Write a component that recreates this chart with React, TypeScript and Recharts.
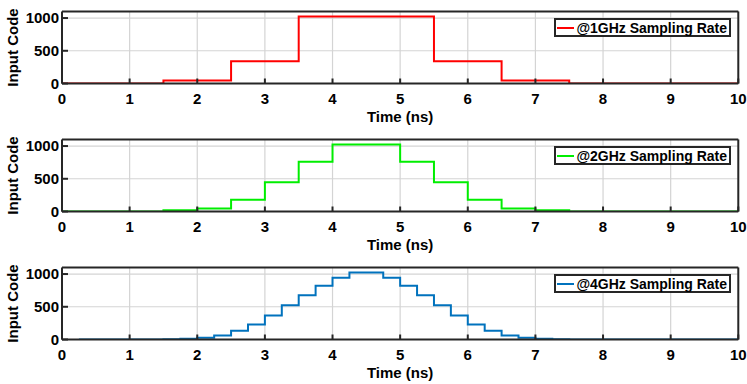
import { LineChart, Line, XAxis, YAxis, CartesianGrid, Legend } from "recharts";

// time axis / code axis ticks
const timeTicks = [0, 1, 2, 3, 4, 5, 6, 7, 8, 9, 10];
const codeTicks = [0, 500, 1000];

// @1GHz: sample-and-hold
const time1GHz = [0, 0.5, 1.5, 2.5, 3.5, 4.5, 5.5, 6.5, 7.5, 8.5, 9.5, 10];
const code1GHz = [0, 0, 45, 340, 1023, 1023, 340, 45, 0, 0, 0, 0];

// @2GHz
const time2GHz = [0, 0.5, 1, 1.5, 2, 2.5, 3, 3.5, 4, 4.5, 5, 5.5, 6, 6.5, 7, 7.5, 8, 8.5, 9, 9.5, 10];
const code2GHz = [0, 0, 0, 18, 45, 180, 445, 760, 1023, 1023, 760, 445, 180, 45, 18, 0, 0, 0, 0, 0, 0];

// @4GHz
const time4GHz = [
  0.25, 0.5, 0.75, 1, 1.25, 1.5, 1.75, 2, 2.25, 2.5, 2.75, 3, 3.25, 3.5, 3.75, 4, 4.25, 4.5, 4.75, 5,
  5.25, 5.5, 5.75, 6, 6.25, 6.5, 6.75, 7, 7.25, 7.5, 7.75, 8, 8.25, 8.5, 8.75, 9, 9.25, 9.5, 9.75, 10,
];
const code4GHz = [
  0, 0, 0, 0, 0, 5, 12, 25, 62, 133, 230, 368, 522, 677, 820, 945, 1023, 1023, 945, 820,
  677, 522, 368, 230, 133, 62, 25, 12, 5, 0, 0, 0, 0, 0, 0, 0, 0, 0, 0, 0,
];

const panels = [
  { name: "@1GHz Sampling Rate", color: "#ff0000", time: time1GHz, code: code1GHz },
  { name: "@2GHz Sampling Rate", color: "#00ee00", time: time2GHz, code: code2GHz },
  { name: "@4GHz Sampling Rate", color: "#0072bd", time: time4GHz, code: code4GHz },
];

const FONT = '"Liberation Sans", Arial, Helvetica, sans-serif';
const AXIS = "#262626";
const tickStyle = { fill: "#000", fontSize: 15, fontWeight: "bold", fontFamily: FONT };

function LegendBox({ name, color }: { name: string; color: string }) {
  return (
    <div
      style={{
        position: "absolute",
        right: 0,
        top: 0,
        height: 19,
        boxSizing: "border-box",
        border: `2px solid ${AXIS}`,
        background: "#fff",
        display: "flex",
        alignItems: "center",
        padding: "0 2px 0 1px",
        whiteSpace: "nowrap",
      }}
    >
      <span style={{ width: 17, height: 2, background: color, display: "inline-block", marginRight: 2 }} />
      <span style={{ fontFamily: FONT, fontWeight: "bold", fontSize: 14, color: "#000" }}>{name}</span>
    </div>
  );
}

function Panel({ panel, top }: { panel: (typeof panels)[number]; top: number }) {
  const data = panel.time.map((t, i) => ({ t, code: panel.code[i] }));
  return (
    <div style={{ position: "absolute", left: 0, top }}>
      <LineChart width={747} height={128} data={data} margin={{ top: 10.5, right: 7.7, bottom: 0, left: 0 }}>
        <CartesianGrid stroke="#d4d4d4" strokeWidth={1.2} />
        <XAxis
          dataKey="t"
          type="number"
          domain={[0, 10]}
          ticks={timeTicks}
          interval={0}
          allowDataOverflow
          height={44.5}
          tickSize={-5}
          tickMargin={15}
          axisLine={{ stroke: AXIS, strokeWidth: 2 }}
          tickLine={{ stroke: AXIS, strokeWidth: 2 }}
          tick={tickStyle}
          label={{ value: "Time (ns)", position: "insideBottom", offset: 6, ...tickStyle }}
        />
        <XAxis
          xAxisId="top"
          orientation="top"
          dataKey="t"
          type="number"
          domain={[0, 10]}
          ticks={timeTicks}
          interval={0}
          allowDataOverflow
          height={1}
          tickSize={-5}
          tick={false}
          axisLine={{ stroke: AXIS, strokeWidth: 2 }}
          tickLine={{ stroke: AXIS, strokeWidth: 2 }}
        />
        <YAxis
          type="number"
          domain={[0, 1100]}
          ticks={codeTicks}
          interval={0}
          allowDataOverflow
          width={62}
          tickSize={-6}
          tickMargin={9}
          axisLine={{ stroke: AXIS, strokeWidth: 2 }}
          tickLine={{ stroke: AXIS, strokeWidth: 2 }}
          tick={tickStyle}
          label={{
            value: "Input Code",
            angle: -90,
            position: "insideLeft",
            offset: 12.5,
            textAnchor: "middle",
            style: { textAnchor: "middle" },
            ...tickStyle,
          }}
        />
        <YAxis
          yAxisId="right"
          orientation="right"
          type="number"
          domain={[0, 1100]}
          ticks={codeTicks}
          interval={0}
          allowDataOverflow
          width={1}
          tickSize={-6}
          tick={false}
          axisLine={{ stroke: AXIS, strokeWidth: 2 }}
          tickLine={{ stroke: AXIS, strokeWidth: 2 }}
        />
        <Legend
          verticalAlign="top"
          align="right"
          wrapperStyle={{ top: 18, right: 16, width: 0, height: 0 }}
          content={() => <LegendBox name={panel.name} color={panel.color} />}
        />
        {/* invisible copy so the top/right box axes get drawn */}
        <Line
          xAxisId="top"
          yAxisId="right"
          type="stepAfter"
          dataKey="code"
          stroke="none"
          legendType="none"
          dot={false}
          activeDot={false}
          isAnimationActive={false}
        />
        <Line
          type="stepAfter"
          dataKey="code"
          stroke={panel.color}
          strokeWidth={2}
          dot={false}
          isAnimationActive={false}
        />
      </LineChart>
    </div>
  );
}

export default function App() {
  return (
    <div style={{ position: "absolute", left: 0, top: 0, width: 747, height: 384, background: "#fff" }}>
      {panels.map((p, i) => (
        <Panel key={p.name} panel={p} top={i * 128} />
      ))}
    </div>
  );
}
